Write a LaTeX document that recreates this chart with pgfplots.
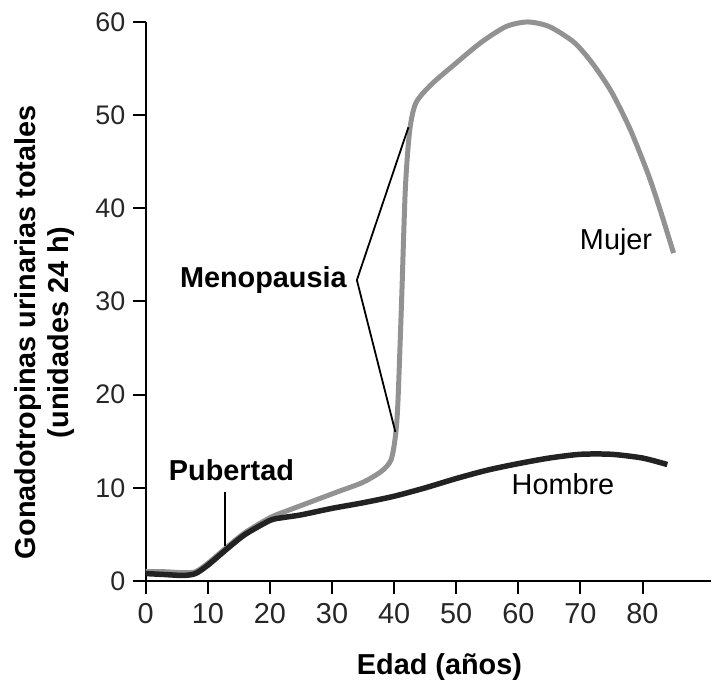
\documentclass[border=0pt]{standalone}
\usepackage{pgfplots}
\pgfplotsset{compat=1.18}
\usepackage{fontspec}
\setmainfont{Liberation Sans}
\definecolor{mujer}{HTML}{929292}
\definecolor{hombre}{HTML}{222222}
\begin{document}
\begin{tikzpicture}
\begin{axis}[
  scale only axis,
  width=566bp, height=560bp,
  xmin=0, xmax=91, ymin=0, ymax=60,
  axis lines*=left,
  axis line style={line width=2.4bp, black},
  xtick={0,10,...,80}, ytick={0,10,...,60},
  tick align=outside,
  major tick length=13bp,
  tick style={line width=2bp, black},
  /pgf/number format/assume math mode=true,
  yticklabel style={font=\fontsize{27}{30}\selectfont, text=black!85, xshift=-4bp},
  xticklabel style={font=\fontsize{29}{32}\selectfont, text=black!85, yshift=-6bp},
  clip=false,
]
\addplot[color=mujer, line width=5bp, smooth, tension=0.45] coordinates {
(0,1.0) (3,1.0) (6,0.9) (8,1.0) (10,1.9) (13,3.6) (16,5.2) (20,6.8) (23,7.6)
(27,8.6) (31,9.6) (35,10.6) (38,11.8) (39.5,13.0) (40.2,15.5) (40.6,19)
(41.2,30) (41.8,42) (42.5,48.3) (43.5,51.3) (46,53.3) (50,55.6) (54,57.8)
(58,59.5) (61.5,60) (65,59.5) (69,57.8) (72,55.5) (75,52.5) (78,48.5)
(81,43.5) (83,39.5) (85,35.2)
};
\addplot[color=hombre, line width=5.5bp, smooth, tension=0.45] coordinates {
(0,0.8) (3,0.7) (6,0.6) (8,0.8) (10,1.7) (13,3.4) (16,5.0) (20,6.5) (22,6.8)
(25,7.1) (30,7.8) (35,8.4) (40,9.1) (45,10.0) (50,11.0) (55,11.9) (60,12.6)
(65,13.2) (70,13.6) (75,13.6) (80,13.2) (84,12.5)
};
% annotations
\draw[line width=1.8bp, black] (axis cs:42.3,48.7) -- (axis cs:34.0,32.3) -- (axis cs:40.2,16);
\node[anchor=east, font=\fontsize{29}{33}\selectfont\bfseries, inner sep=0pt, xshift=-10bp] at (axis cs:34.0,32.3) {Menopausia};
\draw[line width=1.8bp, black] (axis cs:12.7,3.8) -- (axis cs:12.7,9.6);
\node[anchor=base, font=\fontsize{29}{33}\selectfont\bfseries, inner sep=0pt] at (axis cs:13.8,10.8) {Pubertad};
\node[anchor=base west, font=\fontsize{29}{33}\selectfont, inner sep=0pt] at (axis cs:69.9,35.6) {Mujer};
\node[anchor=base west, font=\fontsize{29}{33}\selectfont, inner sep=0pt] at (axis cs:58.9,9.3) {Hombre};
% labels
\node[rotate=90, align=center, font=\fontsize{29}{33}\selectfont\bfseries] at ([xshift=-101bp]axis cs:0,26.7) {Gonadotropinas urinarias totales\\(unidades 24 h)};
\node[font=\fontsize{29}{33}\selectfont\bfseries] at ([yshift=-86bp]axis cs:47.3,0) {Edad (años)};
\coordinate (O) at (axis cs:0,0);
\end{axis}
\path (O) ++(-146bp,-104bp) rectangle ++(712bp,686bp);
\end{tikzpicture}
\end{document}
